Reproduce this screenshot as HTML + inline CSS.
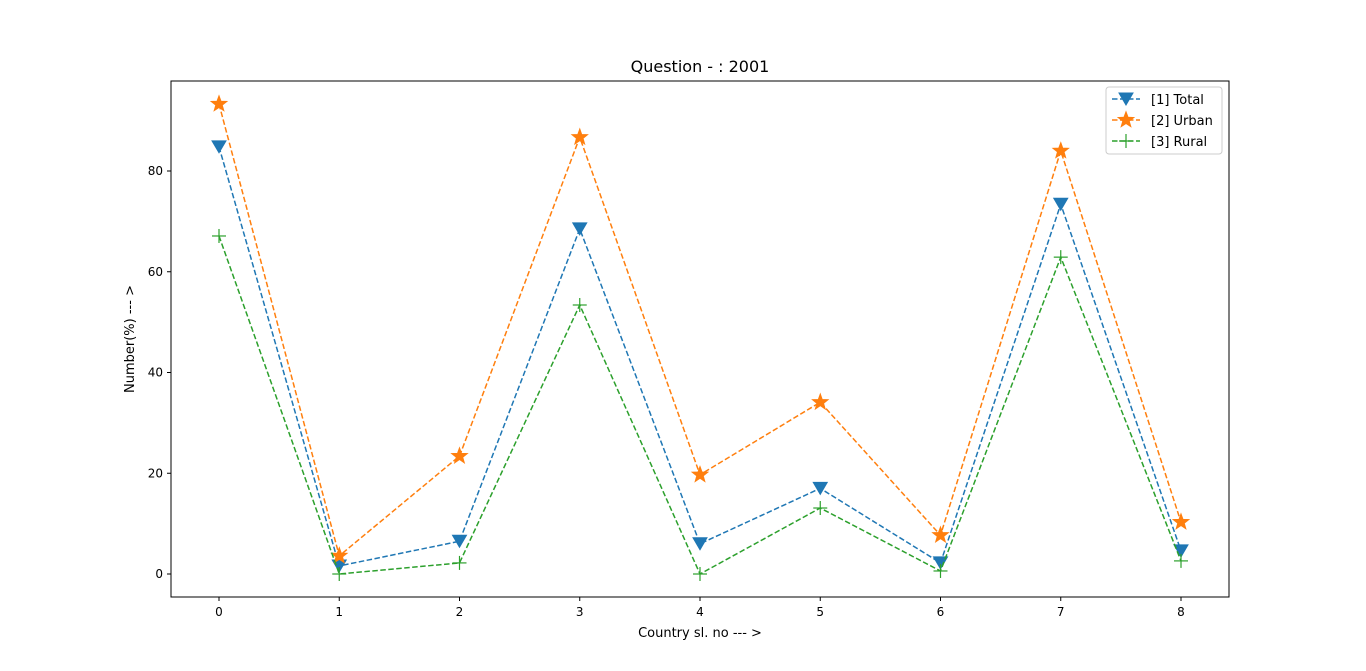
<!DOCTYPE html>
<html><head><meta charset="utf-8"><style>
body{margin:0;background:#fff}
svg{display:block;font-family:"DejaVu Sans","Liberation Sans",sans-serif}
</style></head><body>
<svg id="c" width="1366" height="671">
</svg>
<script>
const categories=[0,1,2,3,4,5,6,7,8];
const totalValues=[84.8,1.6,6.5,68.5,6.0,17.0,2.2,73.4,4.6];
const urbanValues=[93.3,3.6,23.4,86.7,19.7,34.1,7.7,84.0,10.3];
const ruralValues=[67.1,0.0,2.2,53.4,0.0,13.1,0.6,62.9,2.6];
const yTicks=[0,20,40,60,80];
const xTicks=[0,1,2,3,4,5,6,7,8];
const L=171,R=1229,T=81,B=597;
const x=v=>219+(v-0)*(1181-219)/8;
const y=v=>574-v*(574-171)/80;
const svg=document.getElementById('c');
const NS='http://www.w3.org/2000/svg';
function mk(t,a,p){const e=document.createElementNS(NS,t);for(const k in a)e.setAttribute(k,a[k]);(p||svg).appendChild(e);return e;}
// title
let t=mk('text',{x:700,y:72,'text-anchor':'middle','font-size':16,fill:'#000'});t.textContent='Question - : 2001';


// ticks
xTicks.forEach(v=>{
 mk('line',{x1:x(v),x2:x(v),y1:B,y2:B+4,stroke:'#000'});
 const e=mk('text',{x:x(v),y:B+19,'text-anchor':'middle','font-size':12});e.textContent=v;
 
 
});
yTicks.forEach(v=>{
 mk('line',{x1:L-4,x2:L,y1:y(v),y2:y(v),stroke:'#000'});
 const e=mk('text',{x:L-8,y:y(v)+4,'text-anchor':'end','font-size':12});e.textContent=v;
 
 
});
let xl=mk('text',{x:700,y:637,'text-anchor':'middle','font-size':13});xl.textContent='Country sl. no --- >';


let yl=mk('text',{x:134,y:339,'text-anchor':'middle','font-size':13,transform:'rotate(-90 134 339)'});yl.textContent='Number(%) --- >';


function marker(kind,cx,cy,col,g){
 if(kind==='tri') mk('polygon',{points:`${cx-7},${cy-6} ${cx+7},${cy-6} ${cx},${cy+6}`,fill:col,stroke:col},g);
 else if(kind==='star'){let p=[];for(let i=0;i<10;i++){const r=i%2?3.4:8.2,a=-Math.PI/2+i*Math.PI/5;p.push((cx+r*Math.cos(a)).toFixed(1)+','+(cy+r*Math.sin(a)).toFixed(1));}
  mk('polygon',{points:p.join(' '),fill:col,stroke:col},g);}
 else {mk('line',{x1:cx-7,x2:cx+7,y1:cy,y2:cy,stroke:col,'stroke-width':1.2},g);mk('line',{x1:cx,x2:cx,y1:cy-7,y2:cy+7,stroke:col,'stroke-width':1.2},g);}
}
const series=[[totalValues,'#1f77b4','tri','series-total'],[urbanValues,'#ff7f0e','star','series-urban'],[ruralValues,'#2ca02c','plus','series-rural']];
series.forEach(([vals,col,kind,name])=>{
 const g=mk('g',{});
 
 
 mk('polyline',{points:categories.map((c,i)=>x(c)+','+y(vals[i])).join(' '),fill:'none',stroke:col,'stroke-width':1.5,'stroke-dasharray':'5.5,2.5'},g);
 categories.forEach((c,i)=>marker(kind,x(c),y(vals[i]),col,g));
});
// frame
mk('rect',{x:L,y:T,width:R-L,height:B-T,fill:'none',stroke:'#000','stroke-width':1});
// legend
const lg=mk('g',{});


mk('rect',{x:1106,y:87,width:116,height:67,rx:3,fill:'#fff','fill-opacity':0.8,stroke:'#ccc'},lg);
const labels=['[1] Total','[2] Urban','[3] Rural'];
series.forEach(([v,col,kind],i)=>{
 const yy=99+i*21;
 const e=mk('g',{},lg);
 
 
 mk('line',{x1:1112,x2:1140,y1:yy,y2:yy,stroke:col,'stroke-width':1.5,'stroke-dasharray':'5.5,2.5'},e);
 marker(kind,1126,yy,col,e);
 const tx=mk('text',{x:1151,y:yy+5,'font-size':13},e);tx.textContent=labels[i];
});
</script>
</body></html>
